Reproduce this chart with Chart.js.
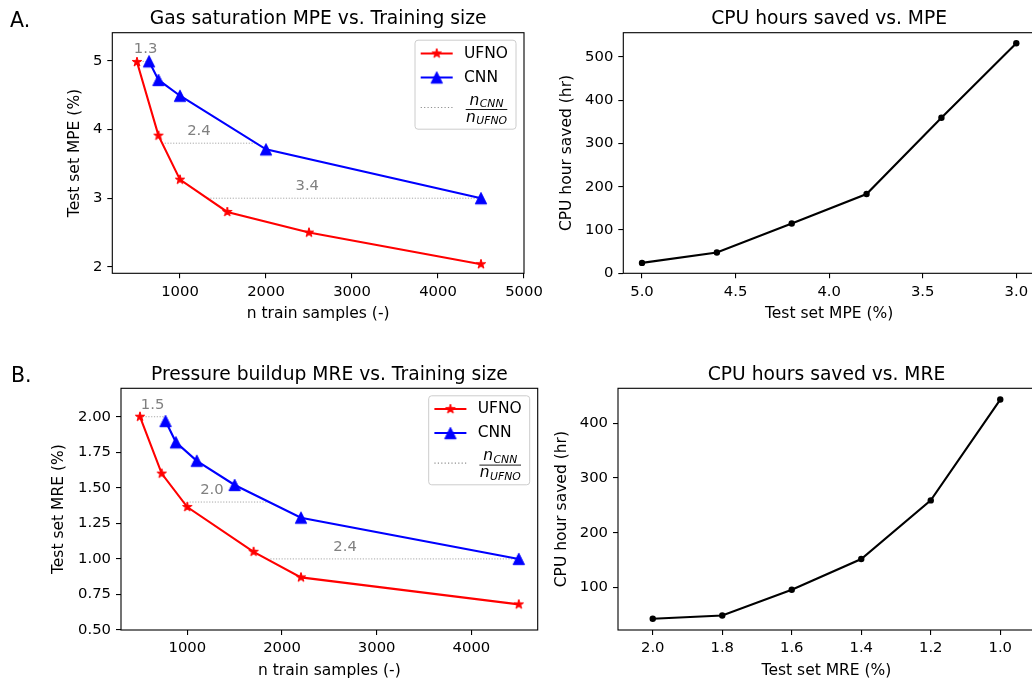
<!DOCTYPE html>
<html><head><meta charset="utf-8">
<script src="https://cdn.jsdelivr.net/npm/chart.js@4"></script>
<style>
html,body{margin:0;padding:0;background:#fff;width:1032px;height:679px;overflow:hidden;position:relative;}
canvas{position:absolute;}
</style></head><body>
<canvas id="cA"></canvas><canvas id="cB"></canvas><canvas id="cC"></canvas><canvas id="cD"></canvas>
<script>
// ---------- DATA ----------
// Panel A: Gas saturation MPE vs training size
const ufnoA_n   = [500, 750, 1000, 1550, 2500, 4500];
const ufnoA_mpe = [4.98, 3.91, 3.27, 2.80, 2.50, 2.04];
const cnnA_n    = [640, 750, 1000, 2000, 4500];
const cnnA_mpe  = [4.99, 4.72, 4.49, 3.71, 3.00];
const ratioA_y  = [4.99, 3.80, 3.00];
const ratioA_x0 = [500, 790, 1320];
const ratioA_x1 = [640, 1885, 4500];
const ratioA_lbl = ['1.3', '2.4', '3.4'];
const ratioA_lblX = [600, 1220, 2480];
const aXTicks = [1000, 2000, 3000, 4000, 5000];
const aYTicks = [2, 3, 4, 5];

// Panel B: CPU hours saved vs MPE
const mpeB = [5.0, 4.6, 4.2, 3.8, 3.4, 3.0];
const cpuB = [24, 48, 115, 183, 359, 531];
const bXTicks = [5.0, 4.5, 4.0, 3.5, 3.0];
const bYTicks = [0, 100, 200, 300, 400, 500];

// Panel C: Pressure buildup MRE vs training size
const ufnoC_n   = [500, 730, 1000, 1700, 2200, 4500];
const ufnoC_mre = [2.00, 1.60, 1.365, 1.05, 0.87, 0.68];
const cnnC_n    = [770, 880, 1100, 1500, 2200, 4500];
const cnnC_mre  = [1.97, 1.82, 1.69, 1.52, 1.29, 1.00];
const ratioC_y  = [2.00, 1.40, 1.00];
const ratioC_x0 = [500, 965, 1877];
const ratioC_x1 = [750, 1860, 4500];
const ratioC_lbl = ['1.5', '2.0', '2.4'];
const ratioC_lblX = [634, 1260, 2666];
const cXTicks = [1000, 2000, 3000, 4000];
const cYTicks = [0.50, 0.75, 1.00, 1.25, 1.50, 1.75, 2.00];

// Panel D: CPU hours saved vs MRE
const mreD = [2.0, 1.8, 1.6, 1.4, 1.2, 1.0];
const cpuD = [43, 49, 96, 152, 259, 443];
const dXTicks = [2.0, 1.8, 1.6, 1.4, 1.2, 1.0];
const dYTicks = [100, 200, 300, 400];

// ---------- HELPERS ----------
const FONT = 'DejaVu Sans';
const TICK = 14.8, LAB = 15.5, TITLE = 18.7, LEG = 15.5;
const RED = '#ff0000', BLUE = '#0000ff', GRAYTXT = '#808080', DOTC = '#a8a8a8';
Chart.defaults.font.family = FONT;

function makeStar(color, R) {
  const s = 2 * Math.ceil(R + 2);
  const c = document.createElement('canvas'); c.width = s; c.height = s;
  const g = c.getContext('2d'); const cx = s / 2, cy = s / 2, r = R * 0.381966;
  g.beginPath();
  for (let k = 0; k < 10; k++) {
    const ang = -Math.PI / 2 + k * Math.PI / 5, rr = (k % 2 === 0) ? R : r;
    const px = cx + rr * Math.cos(ang), py = cy + rr * Math.sin(ang);
    if (k) g.lineTo(px, py); else g.moveTo(px, py);
  }
  g.closePath(); g.fillStyle = color; g.fill();
  g.strokeStyle = color; g.lineWidth = 1; g.lineJoin = 'round'; g.stroke();
  return c;
}
function makeTri(color, h) {
  const s = 2 * Math.ceil(h + 2);
  const c = document.createElement('canvas'); c.width = s; c.height = s;
  const g = c.getContext('2d'); const cx = s / 2, cy = s / 2;
  g.beginPath(); g.moveTo(cx, cy - h); g.lineTo(cx - h, cy + h); g.lineTo(cx + h, cy + h); g.closePath();
  g.fillStyle = color; g.fill(); g.strokeStyle = color; g.lineWidth = 1; g.lineJoin = 'miter'; g.stroke();
  return c;
}
const starImg = makeStar(RED, 5.0);
const triImg = makeTri(BLUE, 5.7);

function pts(xs, ys) { return xs.map((x, i) => ({ x: x, y: ys[i] })); }

function txt(ctx, s, x, y, o) {
  o = o || {};
  ctx.save();
  ctx.font = (o.style ? o.style + ' ' : '') + (o.size || LAB) + 'px "' + FONT + '"';
  ctx.fillStyle = o.color || '#000';
  ctx.textAlign = o.align || 'center';
  ctx.textBaseline = o.baseline || 'middle';
  ctx.translate(x, y);
  if (o.rot) ctx.rotate(o.rot);
  ctx.fillText(s, 0, 0);
  ctx.restore();
}

function drawLegend(ctx, area) {
  const bw = 101, bh = 89;
  const bx = area.right - 8 - bw, by = area.top + 7.5;
  ctx.save();
  ctx.beginPath();
  if (ctx.roundRect) ctx.roundRect(bx, by, bw, bh, 3); else ctx.rect(bx, by, bw, bh);
  ctx.fillStyle = 'rgba(255,255,255,0.8)'; ctx.fill();
  ctx.strokeStyle = '#cccccc'; ctx.lineWidth = 1; ctx.stroke();
  const rows = [[by + 13.3, RED, starImg, 'UFNO'], [by + 37.3, BLUE, triImg, 'CNN']];
  rows.forEach(r => {
    ctx.beginPath(); ctx.moveTo(bx + 5.7, r[0]); ctx.lineTo(bx + 37.7, r[0]);
    ctx.strokeStyle = r[1]; ctx.lineWidth = 2; ctx.stroke();
    ctx.drawImage(r[2], bx + 21.7 - r[2].width / 2, r[0] - r[2].height / 2);
    txt(ctx, r[3], bx + 49, r[0], { align: 'left', size: LEG });
  });
  ctx.beginPath(); ctx.setLineDash([1.2, 2.2]);
  ctx.moveTo(bx + 5.7, by + 67.3); ctx.lineTo(bx + 37.7, by + 67.3);
  ctx.strokeStyle = '#909090'; ctx.lineWidth = 1.2; ctx.stroke(); ctx.setLineDash([]);
  const x0 = bx + 50.7, x1 = bx + 92.3, cx = (x0 + x1) / 2;
  ctx.beginPath(); ctx.moveTo(x0, by + 69.3); ctx.lineTo(x1, by + 69.3);
  ctx.strokeStyle = '#000'; ctx.lineWidth = 0.9; ctx.stroke();
  function frac(sub, base) {
    ctx.font = 'italic ' + LEG + 'px "' + FONT + '"'; const wn = ctx.measureText('n').width;
    ctx.font = 'italic 10.8px "' + FONT + '"'; const ws = ctx.measureText(sub).width;
    const sx = cx - (wn + ws + 0.5) / 2;
    txt(ctx, 'n', sx, base, { align: 'left', baseline: 'alphabetic', style: 'italic', size: LEG });
    txt(ctx, sub, sx + wn + 0.5, base + 2.2, { align: 'left', baseline: 'alphabetic', style: 'italic', size: 10.8 });
  }
  frac('CNN', by + 64.5);
  frac('UFNO', by + 81.5);
  ctx.restore();
}

function spines(ctx, a) {
  ctx.save(); ctx.strokeStyle = '#000'; ctx.lineWidth = 1.1;
  ctx.strokeRect(a.left, a.top, a.right - a.left, a.bottom - a.top); ctx.restore();
}

function scaleOpts(ticks, fmt, min, max, fitFn, reverse, pad) {
  return {
    type: 'linear', min: min, max: max, reverse: !!reverse,
    afterBuildTicks: s => { s.ticks = ticks.map(v => ({ value: v })); },
    afterFit: fitFn,
    ticks: { callback: v => fmt(v), font: { family: FONT, size: TICK }, color: '#000', padding: pad, autoSkip: false, maxRotation: 0, minRotation: 0 },
    grid: { display: true, drawOnChartArea: false, drawTicks: true, tickLength: 5, color: '#000', lineWidth: 1.1 },
    border: { display: false }
  };
}

function makeChart(id, box, area, datasets, sc, extras) {
  const cv = document.getElementById(id);
  cv.width = box.w; cv.height = box.h;
  cv.style.left = box.left + 'px'; cv.style.top = box.top + 'px';
  cv.style.width = box.w + 'px'; cv.style.height = box.h + 'px';
  const yW = area.l - box.left, xH = box.top + box.h - area.b;
  const padTop = area.t - box.top, padRight = box.left + box.w - area.r;
  return new Chart(cv, {
    type: 'line',
    data: { datasets: datasets },
    options: {
      responsive: false, animation: false, devicePixelRatio: 1,
      layout: { padding: { top: padTop, right: padRight, left: 0, bottom: 0 } },
      plugins: { legend: { display: false }, tooltip: { enabled: false }, title: { display: false } },
      scales: {
        x: scaleOpts(sc.xt, sc.xf, sc.xmin, sc.xmax, s => { s.height = xH; }, sc.xrev, sc.xpad),
        y: scaleOpts(sc.yt, sc.yf, sc.ymin, sc.ymax, s => { s.width = yW; }, false, 5)
      }
    },
    plugins: [{
      id: 'deco_' + id,
      afterDraw(chart) {
        const ctx = chart.ctx, a = chart.chartArea;
        const X = v => v - box.left, Y = v => v - box.top;
        spines(ctx, a);
        txt(ctx, extras.title, (a.left + a.right) / 2, a.top - 8.3, { size: TITLE, baseline: 'alphabetic' });
        txt(ctx, extras.xlabel, (a.left + a.right) / 2, a.bottom + 40.7, { size: LAB });
        txt(ctx, extras.ylabel, X(extras.ylabelX), (a.top + a.bottom) / 2, { rot: -Math.PI / 2, size: LAB });
        if (extras.letter) txt(ctx, extras.letter, X(extras.letterX), Y(extras.letterY), { size: 20.5, align: 'left', baseline: 'alphabetic' });
        if (extras.ratio) {
          const xs = chart.scales.x, ys = chart.scales.y, r = extras.ratio;
          r.lbl.forEach((s, i) => {
            txt(ctx, s, xs.getPixelForValue(r.lx[i]), ys.getPixelForValue(r.y[i]) - 12, { color: GRAYTXT, size: TICK });
          });
          drawLegend(ctx, a);
        }
      }
    }]
  });
}

function ratioSets(y, x0, x1) {
  return y.map((yy, i) => ({
    data: [{ x: x0[i], y: yy }, { x: x1[i], y: yy }],
    borderColor: DOTC, borderWidth: 1, borderDash: [1.2, 1.6], pointRadius: 0, order: 10, tension: 0
  }));
}
function lineSet(xs, ys, color, img) {
  return { data: pts(xs, ys), borderColor: color, backgroundColor: color, borderWidth: 2.1, tension: 0,
    pointStyle: img, pointRadius: 5, pointHoverRadius: 5, order: 1 };
}
function dotSet(xs, ys) {
  return { data: pts(xs, ys), borderColor: '#000', backgroundColor: '#000', borderWidth: 2.1, tension: 0,
    pointStyle: 'circle', pointRadius: 3.2, pointBorderWidth: 0, order: 1 };
}

const intFmt = v => String(Math.round(v));
const f1 = v => v.toFixed(1), f2 = v => v.toFixed(2);

// Panel A
makeChart('cA', { left: 0, top: 0, w: 560, h: 330 }, { l: 112.3, t: 32.7, r: 524, b: 273.3 },
  ratioSets(ratioA_y, ratioA_x0, ratioA_x1).concat([
    Object.assign(lineSet(cnnA_n, cnnA_mpe, BLUE, triImg), { order: 2 }),
    lineSet(ufnoA_n, ufnoA_mpe, RED, starImg)]),
  { xt: aXTicks, xf: intFmt, xmin: 213, xmax: 5000, yt: aYTicks, yf: intFmt, ymin: 1.908, ymax: 5.407, xpad: 4.5 },
  { title: 'Gas saturation MPE vs. Training size', xlabel: 'n train samples (-)', ylabel: 'Test set MPE (%)', ylabelX: 75,
    letter: 'A.', letterX: 10, letterY: 27,
    ratio: { y: ratioA_y, lbl: ratioA_lbl, lx: ratioA_lblX } });

// Panel B
makeChart('cB', { left: 540, top: 0, w: 520, h: 330 }, { l: 623.3, t: 32.7, r: 1035, b: 273.3 },
  [dotSet(mpeB, cpuB)],
  { xt: bXTicks, xf: f1, xmin: 2.9, xmax: 5.1, xrev: true, yt: bYTicks, yf: intFmt, ymin: 0, ymax: 555.5, xpad: 4.5 },
  { title: 'CPU hours saved vs. MPE', xlabel: 'Test set MPE (%)', ylabel: 'CPU hour saved (hr)', ylabelX: 566.7 });

// Panel C
makeChart('cC', { left: 0, top: 330, w: 560, h: 349 }, { l: 121, t: 388.3, r: 537.7, b: 630 },
  ratioSets(ratioC_y, ratioC_x0, ratioC_x1).concat([
    Object.assign(lineSet(cnnC_n, cnnC_mre, BLUE, triImg), { order: 2 }),
    lineSet(ufnoC_n, ufnoC_mre, RED, starImg)]),
  { xt: cXTicks, xf: intFmt, xmin: 300, xmax: 4700, yt: cYTicks, yf: f2, ymin: 0.5, ymax: 2.2, xpad: 4 },
  { title: 'Pressure buildup MRE vs. Training size', xlabel: 'n train samples (-)', ylabel: 'Test set MRE (%)', ylabelX: 59.3,
    letter: 'B.', letterX: 11, letterY: 382,
    ratio: { y: ratioC_y, lbl: ratioC_lbl, lx: ratioC_lblX } });

// Panel D
makeChart('cD', { left: 540, top: 330, w: 520, h: 349 }, { l: 618, t: 388.3, r: 1035, b: 630 },
  [dotSet(mreD, cpuD)],
  { xt: dXTicks, xf: f1, xmin: 0.9, xmax: 2.1, xrev: true, yt: dYTicks, yf: intFmt, ymin: 22.5, ymax: 463.5, xpad: 4 },
  { title: 'CPU hours saved vs. MRE', xlabel: 'Test set MRE (%)', ylabel: 'CPU hour saved (hr)', ylabelX: 561.7 });
</script>
</body></html>
